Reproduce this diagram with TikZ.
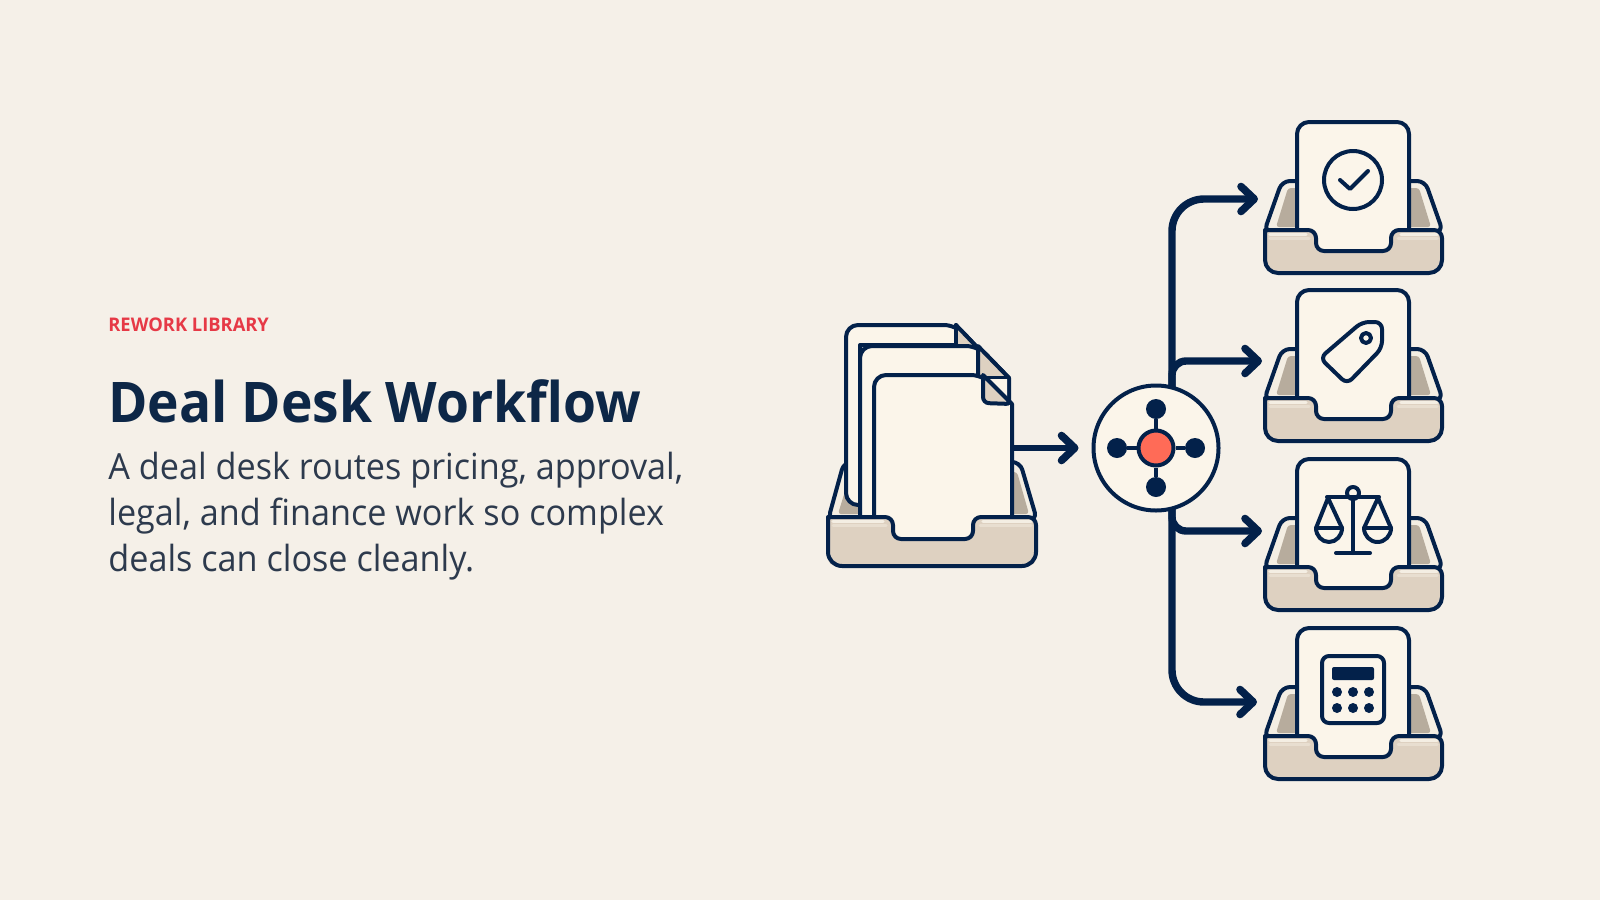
\documentclass[tikz,border=0pt]{standalone}
\usepackage{fontspec}
\usetikzlibrary{arrows.meta}
\setmainfont{Open Sans}
\newfontfamily\titlefont[FakeStretch=0.952]{Open Sans}
\newfontfamily\kickerfont[FakeStretch=0.975]{Open Sans}
\newfontfamily\blurbfont[FakeStretch=0.95]{Open Sans}
\definecolor{paper}{HTML}{F5F0E8}
\definecolor{navy}{HTML}{03214A}
\definecolor{inknavy}{HTML}{0D2747}
\definecolor{sheet}{HTML}{FBF5EA}
\definecolor{traybody}{HTML}{DED1C1}
\definecolor{trayrim}{HTML}{F4EEE3}
\definecolor{traymid}{HTML}{E8DED0}
\definecolor{traywell}{HTML}{B7AC9D}
\definecolor{coral}{HTML}{FF6B57}
\definecolor{crimson}{HTML}{E63946}
\definecolor{slate}{HTML}{2D3A4D}
\tikzset{
  outline/.style={draw=navy,line width=2pt,line join=round,line cap=round},
  flow/.style={draw=navy,line width=3.7pt,line cap=butt,
    -{Straight Barb[length=6.6pt,width=12.5pt,line width=3.8pt,round]}},
  iconline/.style={draw=navy,line width=2pt,line join=round,line cap=round},
  hubdisc/.style={circle,draw=navy,line width=2pt,fill=sheet,minimum size=62.5pt,inner sep=0pt},
  hubcore/.style={circle,draw=navy,line width=2pt,fill=coral,minimum size=17.5pt,inner sep=0pt},
  hubsat/.style={circle,fill=navy,minimum size=10pt,inner sep=0pt},
  spoke/.style={draw=navy,line width=1.8pt},
  rimlight/.style={draw=trayrim,line width=1.6pt,line cap=round},
  rimsoft/.style={draw=traymid,line width=1.5pt,line cap=round}
}
% Small inbox tray with one upright sheet; the argument is its vertical offset.
\newcommand{\smalltray}[1]{%
  \begin{scope}[shift={(0,#1)}]
    \path[outline,fill=trayrim,rounded corners=4pt]
      (1264,232) -- (1282,181) -- (1425,181) -- (1443,232) -- cycle;
    \fill[traywell,rounded corners=1.5pt]
      (1276,227) -- (1288,188) -- (1419,188) -- (1431,227) -- cycle;
    \path[outline,fill=sheet,rounded corners=6pt]
      (1297,252) -- (1297,122) -- (1409,122) -- (1409,252) -- cycle;
    \path[fill=traybody,rounded corners=4pt]
      (1265,230) -- (1316,230) -- (1316,251) -- (1391,251) -- (1391,230) -- (1442,230)
      -- (1442,272) -- (1265,272) -- cycle;
    \draw[rimsoft] (1270,238) -- (1309,238);
    \draw[rimsoft] (1398,238) -- (1437,238);
    \draw[rimlight] (1270,234.5) -- (1306,234.5);
    \draw[rimlight] (1401,234.5) -- (1437,234.5);
    \path[outline,rounded corners=4pt]
      (1265,230) -- (1316,230) -- (1316,251) -- (1391,251) -- (1391,230) -- (1442,230)
      [sharp corners] -- (1442,250) [rounded corners=6.5pt] -- (1442,273) -- (1265,273) -- (1265,230);
  \end{scope}}
\begin{document}
\begin{tikzpicture}[x=0.5pt,y=-0.5pt]
\useasboundingbox[fill=paper] (0,0) rectangle (1600,900);

% Heading and description
\node[anchor=base west,inner sep=0pt,text=crimson,font=\kickerfont\fontsize{9.4}{11}\selectfont\bfseries] (kicker) at (108,331) {REWORK LIBRARY};
\node[anchor=base west,inner sep=0pt,text=inknavy,font=\titlefont\fontsize{28}{32}\selectfont\bfseries] (title) at (108,422) {Deal Desk Workflow};
\node[anchor=north west,inner sep=0pt,align=left,text=slate,font=\blurbfont\fontsize{18}{23}\selectfont] (blurb) at (108,452)
  {A deal desk routes pricing, approval,\\legal, and finance work so complex\\deals can close cleanly.};

% Routing lines: all branches leave a shared bus that passes behind the hub
\coordinate (tap) at (1172,448);
\coordinate (inA) at (1258,199);
\coordinate (inB) at (1262,361);
\coordinate (inC) at (1262,531);
\coordinate (inD) at (1257,702);
\draw[flow,rounded corners=16pt] (tap) |- (inA);
\draw[flow,rounded corners=7pt] (tap) |- (inB);
\draw[flow,rounded corners=7pt] (tap) |- (inC);
\draw[flow,rounded corners=16pt] (tap) |- (inD);

% Hub with four satellites
\node[hubdisc] (hub) at (1156,448) {};
\node[hubcore] (core) at (1156,448) {};
\node[hubsat] (satN) at (1156,409) {};
\node[hubsat] (satS) at (1156,487) {};
\node[hubsat] (satW) at (1117,448) {};
\node[hubsat] (satE) at (1195,448) {};
\foreach \s in {satN,satS,satW,satE} \draw[spoke] (core) -- (\s);

% Large tray holding the stack of files
\path[outline,fill=trayrim,rounded corners=4pt]
  (828,520) -- (844,462) -- (1020,462) -- (1037,520) -- cycle;
\fill[traywell,rounded corners=1.5pt]
  (838,514) -- (846,488) -- (860,472) -- (1017,472) -- (1029,514) -- cycle;

% Back file with its folded corner
\path[outline,fill=sheet,rounded corners=6pt]
  (860,505) -- (846,505) -- (846,325) -- (956,325) [sharp corners] -- (975,345) -- (860,345) -- cycle;
\path[fill=traybody] (956,325) -- (975,345) -- (956,345) -- cycle;
\draw[outline] (956,325) -- (956,345);
\draw[outline] (956,325) -- (975,345);

% Middle file with its folded corner
\path[outline,fill=sheet,rounded corners=6pt]
  (860,520) -- (860,346) -- (978,346) [sharp corners] -- (1009,378) -- (1009,420) -- (1000,520) -- cycle;
\path[outline,fill=traybody] (978,346) -- (1009,378) -- (978,378) -- cycle;

% Front file with its folded corner
\path[outline,fill=sheet,rounded corners=6pt]
  (874,540) -- (874,375) -- (983,375) [sharp corners] -- (1012,404) -- (1012,540) -- cycle;
\fill[sheet] (986,379) -- (1007,379) -- (1007,399) -- cycle;
\path[outline,fill=traybody,rounded corners=3pt]
  (983,375) -- (983,403) -- (1012,404) [sharp corners] -- cycle;

% Front panel of the large tray
\path[fill=traybody,rounded corners=4pt]
  (828,517) -- (893,517) -- (893,539) -- (973,539) -- (973,517) -- (1036,517)
  -- (1036,566) -- (828,566) -- cycle;
\draw[rimsoft] (833,525) -- (886,525);
\draw[rimsoft] (980,525) -- (1031,525);
\draw[rimlight] (833,521.5) -- (883,521.5);
\draw[rimlight] (983,521.5) -- (1031,521.5);
\path[outline,rounded corners=4pt]
  (828,517) -- (893,517) -- (893,539) -- (973,539) -- (973,517) -- (1036,517)
  [sharp corners] -- (1036,540) [rounded corners=7pt] -- (1036,566) -- (828,566) -- (828,517);

% Arrow from the file stack to the hub
\coordinate (stackout) at (1012,448);
\draw[flow,line width=3.3pt,shorten >=6.5pt] (stackout) -- (hub.west);

% Output trays
\smalltray{0}
\smalltray{168}
\smalltray{337}
\smalltray{506}

% Approval icon: check mark in a ring
\draw[iconline] (1353,180) circle (29);
\draw[iconline] (1340,180) -- (1350,189) -- (1368,171);

% Pricing icon: price tag
\path[iconline,rounded corners=3.5pt]
  (1347,384) -- (1320,358) -- (1362,322) -- (1382,322) -- (1382,348) -- cycle;
\draw[iconline] (1366,338) circle (5);

% Legal icon: balance scale
\draw[iconline] (1353,499) -- (1353,553);
\draw[iconline] (1336,553) -- (1370,553);
\draw[iconline] (1327,497) -- (1379,497);
\draw[iconline] (1353,493) circle (6);
\draw[iconline] (1328,498) -- (1316,528) arc[start angle=180,end angle=360,x radius=13,y radius=-14] -- cycle;
\draw[iconline] (1378,498) -- (1364,528) arc[start angle=180,end angle=360,x radius=13.5,y radius=-14] -- cycle;
\draw[iconline] (1316,528) -- (1342,528);
\draw[iconline] (1364,528) -- (1391,528);

% Finance icon: calculator
\draw[iconline,rounded corners=3.5pt] (1322,656) rectangle (1384,723);
\fill[navy,rounded corners=1pt] (1332,667) rectangle (1374,680);
\foreach \bx in {1337,1353,1369} \foreach \by in {692,708} \fill[navy] (\bx,\by) circle (5);
\end{tikzpicture}
\end{document}
